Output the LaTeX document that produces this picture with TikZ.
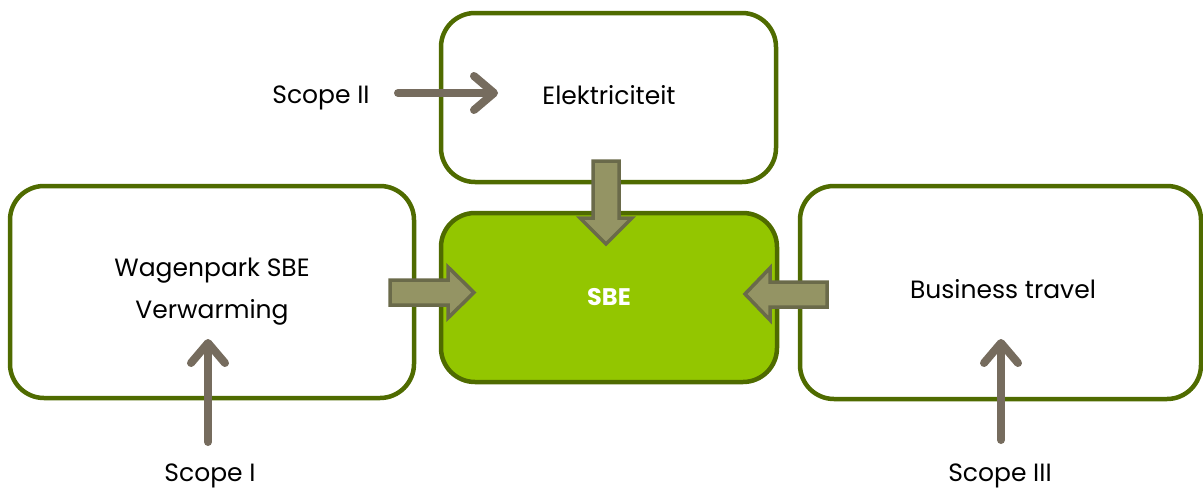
\documentclass[tikz,border=0pt]{standalone}
\usepackage{fontspec}
\setmainfont{Poppins}
\usetikzlibrary{arrows.meta}
\definecolor{boxline}{HTML}{4F6B00}
\definecolor{sbefill}{HTML}{93C600}
\definecolor{blkfill}{HTML}{949464}
\definecolor{blkline}{HTML}{6A6A4A}
\definecolor{linearr}{HTML}{766C5E}
\tikzset{
  box/.style={draw=boxline, line width=4.5pt, rounded corners=34pt, fill=white, inner sep=0pt, align=center, font=\fontsize{25}{42}\selectfont},
  blockarr/.style={fill=blkfill, draw=blkline, line width=3.5pt, line join=miter},
  linearrow/.style={draw=linearr, line width=8pt, line cap=round, -{Straight Barb[length=20pt,width=34pt,round]}},
  lbl/.style={font=\fontsize{25}{30}\selectfont, inner sep=0pt},
}
\begin{document}
\begin{tikzpicture}[x=1pt,y=-1pt]
\useasboundingbox (0,0) rectangle (1203,490);
% boxes
\node[box, minimum width=335pt, minimum height=169pt] (elek) at (608.5,97.5) {};
\node[box, minimum width=404pt, minimum height=212pt] (wagen) at (212,292) {Wagenpark SBE\\Verwarming};
\node[box, minimum width=401pt, minimum height=213pt] (bus) at (1000.5,292.5) {};
\node[box, fill=sbefill, minimum width=336pt, minimum height=169pt, font=\fontsize{24}{30}\selectfont\bfseries, text=white] (sbe) at (609,297.5) {SBE};
\node[lbl] (elektxt) at (609,95) {Elektriciteit};
\node[lbl] (bustxt) at (1003,289) {Business travel};
% block arrows
\draw[blockarr] (593,161) -- (619,161) -- (619,218) -- (632,218) -- (606,244) -- (580,218) -- (593,218) -- cycle;
\draw[blockarr] (390,280) -- (448,280) -- (448,267) -- (474,292.5) -- (448,318) -- (448,305) -- (390,305) -- cycle;
\draw[blockarr] (827,282) -- (770,282) -- (770,268) -- (745,294) -- (770,320) -- (770,307) -- (827,307) -- cycle;
% labels
\node[lbl] (s2) at (321,98) {Scope II};
\node[lbl] (s1) at (210,476) {Scope I};
\node[lbl] (s3) at (1000,476) {Scope III};
\coordinate (s2a) at (398,93);
\coordinate (s2b) at (498,93);
\coordinate (s1a) at (208,442);
\coordinate (s1b) at (208,339);
\coordinate (s3a) at (1001,440);
\coordinate (s3b) at (1001,339);
\draw[linearrow] (s2a) -- (s2b);
\draw[linearrow] (s1a) -- (s1b);
\draw[linearrow] (s3a) -- (s3b);
\end{tikzpicture}
\end{document}
